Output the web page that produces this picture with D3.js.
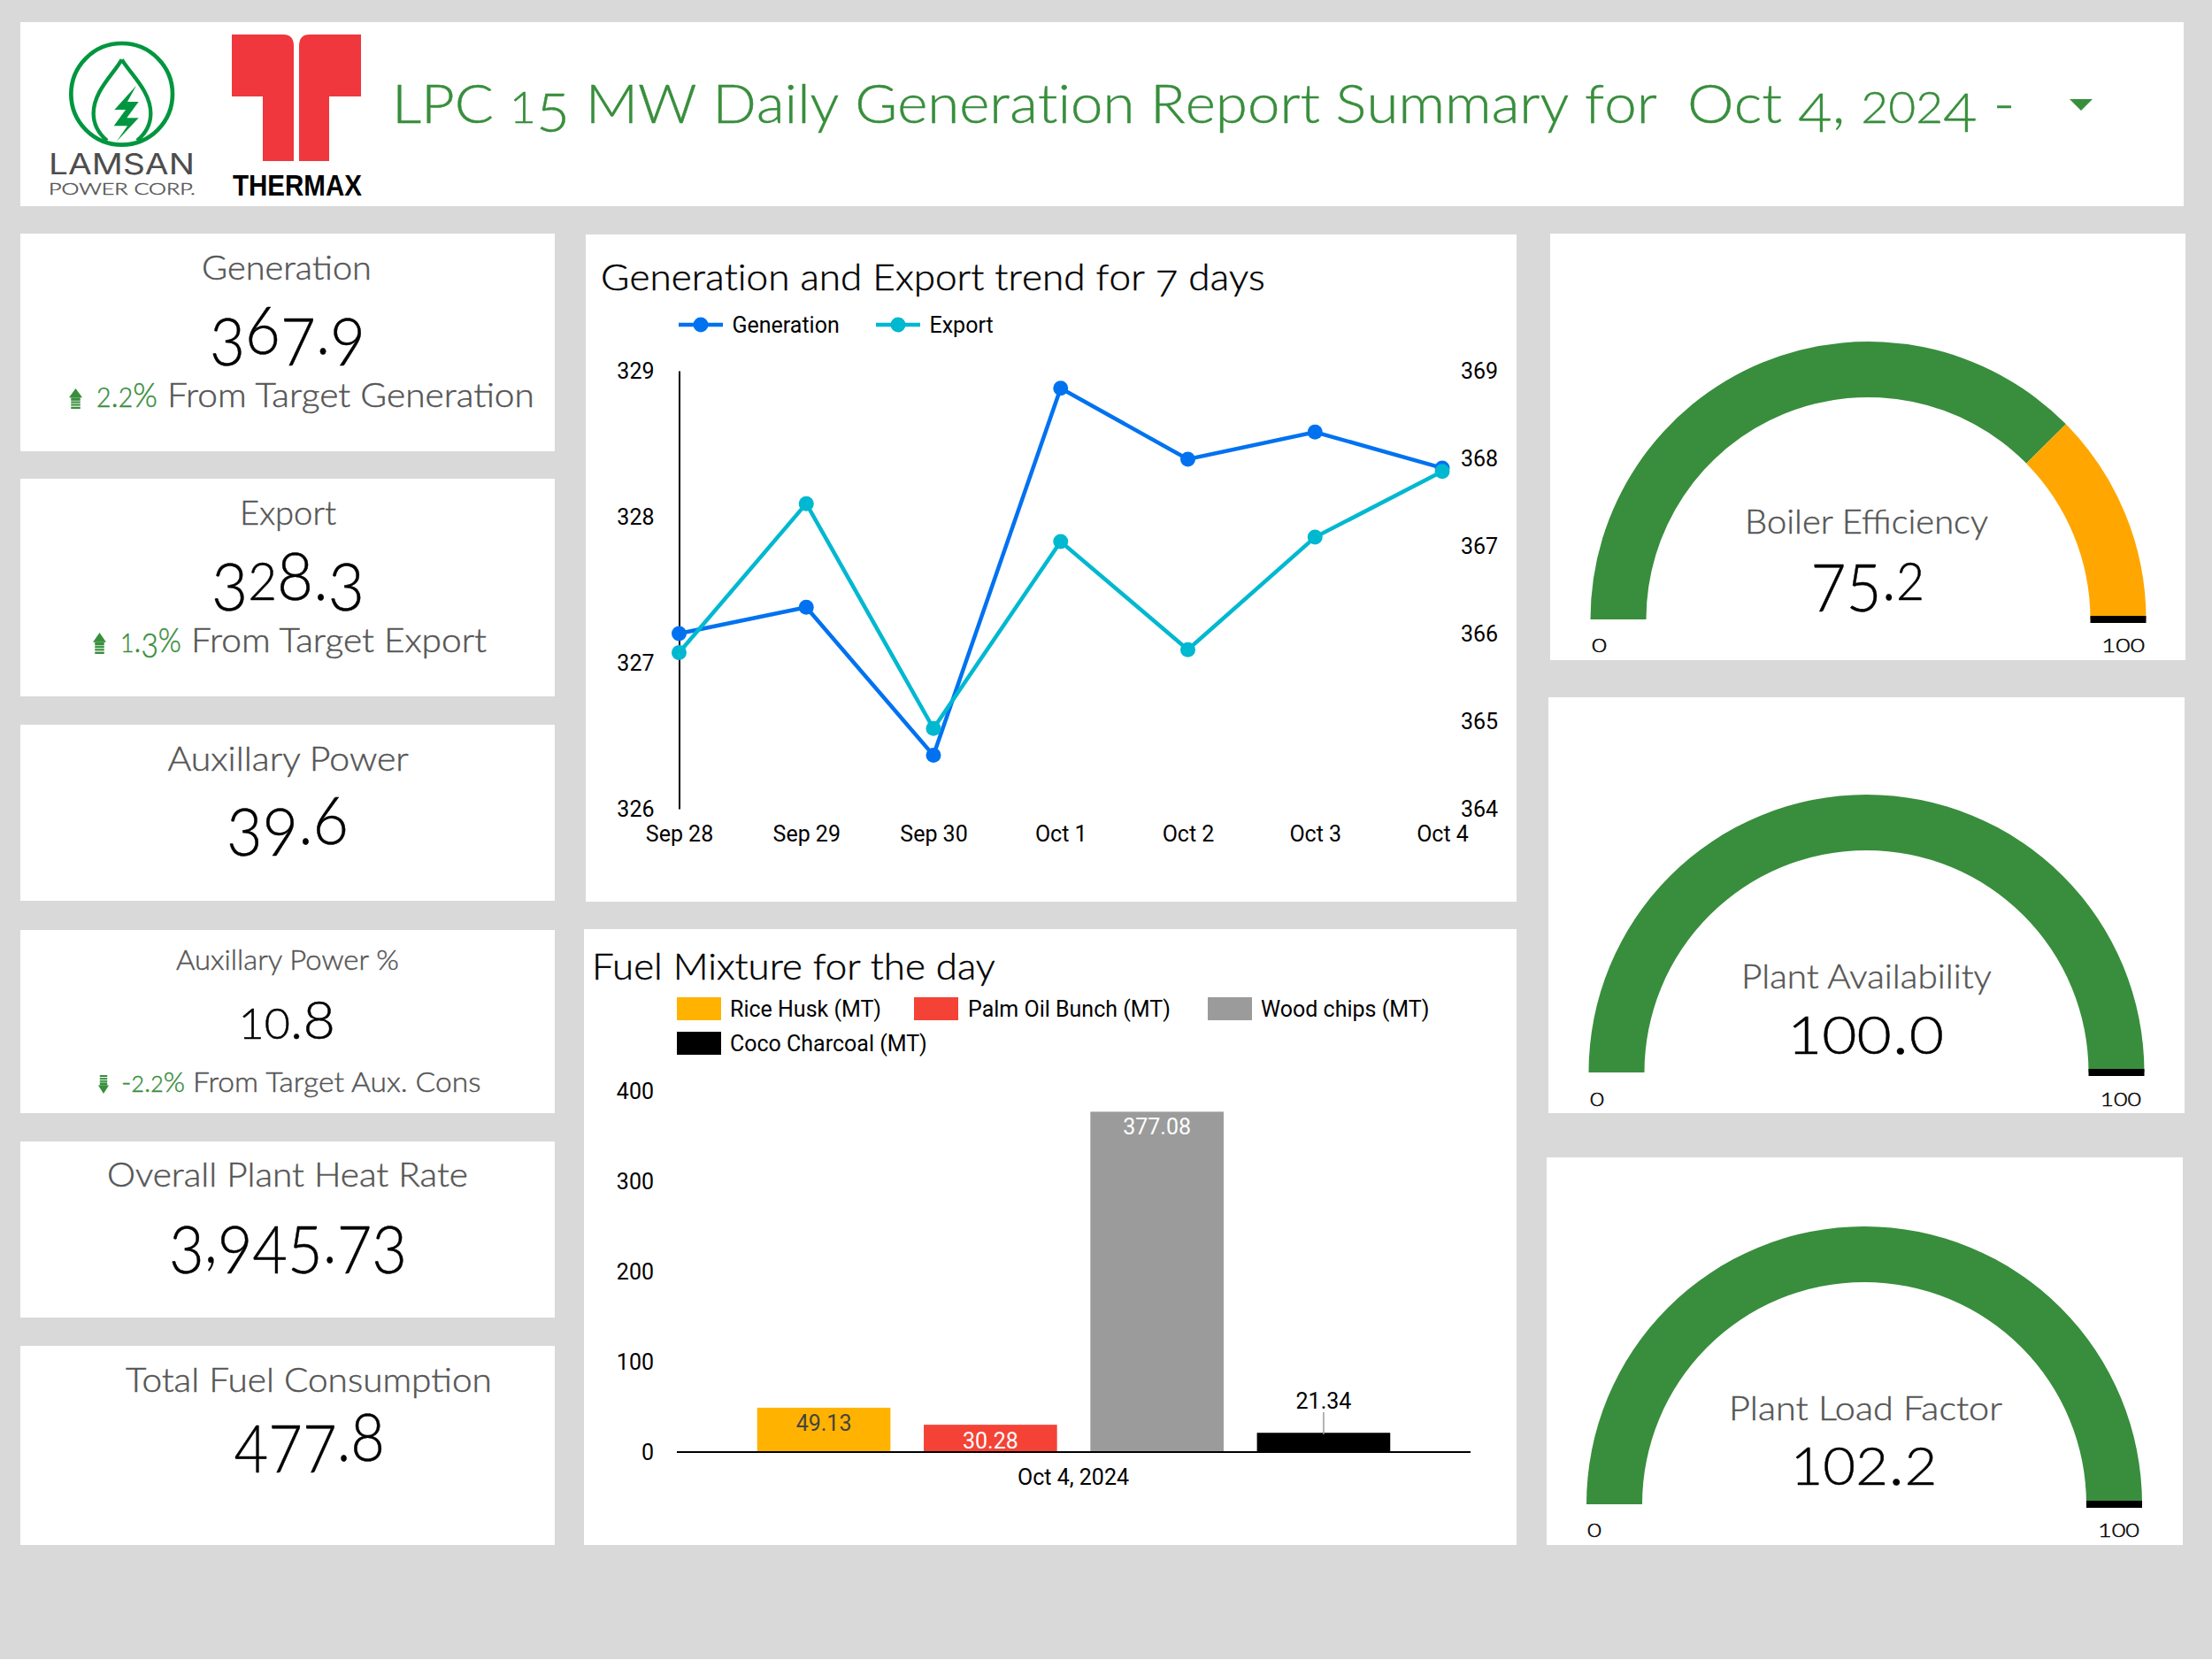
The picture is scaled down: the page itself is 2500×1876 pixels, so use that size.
<!DOCTYPE html>
<html><head><meta charset="utf-8">
<style>html,body{margin:0;padding:0;background:#fff}svg{display:block}text{white-space:pre}</style>
<script src="https://cdn.jsdelivr.net/npm/d3@7/dist/d3.min.js"></script>
</head><body><svg id="c" width="2500" height="1876"></svg>
<script>
// ---------- data ----------
const reportTitle = "LPC 15 MW Daily Generation Report Summary for";
const reportDate = "Oct 4, 2024 -";
const trendTitle = "Generation and Export trend for 7 days";
const fuelTitle = "Fuel Mixture for the day";
const days = ["Sep 28","Sep 29","Sep 30","Oct 1","Oct 2","Oct 3","Oct 4"];
const generation = [366.0,366.3,364.61,368.8,367.99,368.3,367.89];
const exportMW = [327.07,328.09,326.55,327.83,327.09,327.86,328.31];
const leftTicks = [326,327,328,329];
const rightTicks = [364,365,366,367,368,369];
const fuelNames = ["Rice Husk (MT)","Palm Oil Bunch (MT)","Wood chips (MT)","Coco Charcoal (MT)"];
const fuelValues = [49.13,30.28,377.08,21.34];
const fuelTicks = [0,100,200,300,400];
const fuelDate = "Oct 4, 2024";
const kpiTitles = ["Generation","Export","Auxillary Power","Auxillary Power %","Overall Plant Heat Rate","Total Fuel Consumption"];
const kpiValues = ["367.9","328.3","39.6","10.8","3,945.73","477.8"];
const kpiDeltas = ["2.2%","1.3%",null,"-2.2%",null,null];
const kpiNotes = ["From Target Generation","From Target Export",null,"From Target Aux. Cons",null,null];
const gaugeTitles = ["Boiler Efficiency","Plant Availability","Plant Load Factor"];
const gaugeValues = [75.2,100.0,102.2];
const gaugeRange = [0,100];

// ---------- style & layout ----------
const GREEN="#388E3C", AMBER="#FFA600", TXT="#555555", UI="Lato", NUM="Roboto";
const fuelColors=["#FFB300","#F44336","#9B9B9B","#000000"];
const fuelLabelColors=["#444444","#ffffff","#ffffff","#000000"];
const fuelLabelY=[1608,1628,1273,1583];
const svg=d3.select("#c");
const rect=(x0,y0,x1,y1,f,g=svg)=>g.append("rect").attr("x",x0).attr("y",y0).attr("width",x1-x0).attr("height",y1-y0).attr("fill",f);

// draws text whose span is [x1,x2]; digits optionally in old-style figures like the reference font
function label(str,o){
  const t=svg.append("text").attr("font-family",o.family||UI).attr("font-weight",o.weight||300)
    .attr("font-size",o.size).attr("fill",o.fill||"#000");
  if((o.weight||300)===300) t.attr("stroke",o.fill||"#000").attr("stroke-width",.45);
  let off=0;
  if(o.onum){
    for(const ch of str){
      let fs=o.size, d=0;
      if("012".includes(ch)){fs=o.size*.8;}
      else if("34579".includes(ch)){d=o.size*.17;}
      t.append("tspan").attr("font-size",fs).attr("dy",d-off).text(ch);
      off=d;
    }
  } else t.text(str);
  const len=t.node().getComputedTextLength();
  const sx=(o.x2!=null)?(o.x2-o.x1)/len:1;
  t.attr("transform",`translate(${o.x1},${o.y}) scale(${sx},1)`);
  return t;
}

rect(0,0,2500,1875,"#D9D9D9");
rect(0,1875,2500,1876,"#ffffff");

// panels
[[23,25,2468,233],[23,264,627,510],[23,541,627,787],[23,819,627,1018],[23,1051,627,1258],[23,1290,627,1489],[23,1521,627,1746],
 [662,265,1714,1019],[660,1050,1714,1746],[1752,264,2470,746],[1750,788,2469,1258],[1748,1308,2467,1746]]
 .forEach(p=>rect(p[0],p[1],p[2],p[3],"#fff"));

// ---------- header ----------
const lam=svg.append("g").attr("transform","translate(40,30) scale(0.3333)");
lam.append("circle").attr("cx",293).attr("cy",229).attr("r",172).attr("fill","none").attr("stroke","#00963F").attr("stroke-width",14);
lam.append("path").attr("d","M293,112C262,165 197,220 197,295C197,335 217,365 243,387M293,112C326,165 391,220 391,295C391,335 371,365 345,387")
  .attr("fill","none").attr("stroke","#00963F").attr("stroke-width",13).attr("stroke-linejoin","miter");
lam.append("path").attr("d","M342,200L268,282L306,282L266,337L312,337L275,390L350,310L310,310L350,255L312,255Z").attr("fill","#00963F");
label("LAMSAN",{x1:55,x2:220,y:197,size:32,weight:400,family:"Inter",fill:"#4D4D4D"});
label("POWER CORP.",{x1:55,x2:221,y:220,size:18,weight:300,fill:"#555"});
svg.append("path").attr("fill","#EF373D").attr("d","M262,39H320Q332,39 332,52V182H297V109H262ZM338,52Q338,39 350,39H408V109H372V182H338Z");
label("THERMAX",{x1:263,x2:409,y:221,size:33,weight:700,family:"Liberation Sans",fill:"#000"});
label(reportTitle,{x1:443,x2:1863,y:139,size:61,weight:300,fill:GREEN,onum:true});
label(reportDate,{x1:1907,x2:2277,y:139,size:61,weight:300,fill:GREEN,onum:true});
svg.append("path").attr("d","M2339,112H2365L2352,125Z").attr("fill",GREEN);

// ---------- KPI cards ----------
const titleX=[[228,420,316,38],[271,380,593,38],[189.5,462,871,38],[199,451,1096,32],[121,529,1341,38],[142,556,1573,38]];
const valueX=[[237,413,400,74],[239,412,677.5,74],[256,394,954,74],[269.5,379,1174,60],[191,460,1426.5,74],[264.5,435,1651,74]];
const deltaX=[[109,178,189,604,460,38,78,93,439,462,1],[136,205,216,550,737,38,105,120,715,739,1],null,[137,209,218,543.5,1234,32,111,123,1215,1236,-1]];
function arrow(x0,x1,y0,y1,dir){
  const g=svg.append("g").attr("fill",GREEN), h=y1-y0, mid=(x0+x1)/2;
  const s=x=>dir>0?y0+x*h:y1-x*h;
  g.append("path").attr("d",`M${mid},${s(0)}L${x1},${s(.45)}L${x0},${s(.45)}Z`);
  [[.45,.6],[.63,.72],[.76,.85],[.9,1]].forEach(b=>{
    const a=s(b[0]), c=s(b[1]);
    g.append("rect").attr("x",x0+(x1-x0)*.15).attr("width",(x1-x0)*.7).attr("y",Math.min(a,c)).attr("height",Math.abs(c-a));
  });
}
kpiTitles.forEach((t,i)=>{
  const a=titleX[i], v=valueX[i], d=deltaX[i];
  label(t,{x1:a[0],x2:a[1],y:a[2],size:a[3],weight:300,fill:TXT});
  label(kpiValues[i],{x1:v[0],x2:v[1],y:v[2],size:v[3],weight:300,onum:true});
  if(kpiDeltas[i]){
    label(kpiDeltas[i],{x1:d[0],x2:d[1],y:d[4],size:d[5],weight:300,fill:GREEN,onum:true});
    label(kpiNotes[i],{x1:d[2],x2:d[3],y:d[4],size:d[5],weight:300,fill:TXT});
    arrow(d[6],d[7],d[8],d[9],d[10]);
  }
});

// ---------- trend chart ----------
label(trendTitle,{x1:679,x2:1426,y:328,size:41,weight:300,onum:true});
const xT=d3.scalePoint().domain(days).range([767.5,1630]);
const yL=d3.scaleLinear().domain([326,329]).range([914,419]);
const yR=d3.scaleLinear().domain([364,369]).range([914,419]);
const styleAxis=(g,dom)=>{g.selectAll("text").attr("font-family",NUM).attr("font-size",25).attr("fill","#000");
  g.selectAll("path.domain").attr("stroke",dom?"#000":"none").attr("stroke-width",2);};
svg.append("g").attr("transform","translate(767.5,0)").call(d3.axisLeft(yL).tickValues(leftTicks).tickSize(0).tickPadding(28).tickFormat(d3.format("d"))).call(styleAxis,true);
svg.append("g").attr("transform","translate(1630,0)").call(d3.axisRight(yR).tickValues(rightTicks).tickSize(0).tickPadding(21).tickFormat(d3.format("d"))).call(styleAxis,false);
svg.append("g").attr("transform","translate(0,914)").call(d3.axisBottom(xT).tickSize(0).tickPadding(19)).call(styleAxis,false);
const LINE_BLUE="#0072F0", LINE_TEAL="#00B8D0";
[[generation,yR,LINE_BLUE],[exportMW,yL,LINE_TEAL]].forEach(s=>{
  const ln=d3.line().x((d,i)=>xT(days[i])).y(d=>s[1](d));
  svg.append("path").datum(s[0]).attr("d",ln).attr("fill","none").attr("stroke",s[2]).attr("stroke-width",4.5);
  svg.selectAll(null).data(s[0]).enter().append("circle").attr("cx",(d,i)=>xT(days[i])).attr("cy",d=>s[1](d)).attr("r",8.5).attr("fill",s[2]);
});
[["Generation",767,817,827.5,LINE_BLUE],["Export",990,1040,1050.5,LINE_TEAL]].forEach(l=>{
  svg.append("line").attr("x1",l[1]).attr("x2",l[2]).attr("y1",367).attr("y2",367).attr("stroke",l[4]).attr("stroke-width",4.5);
  svg.append("circle").attr("cx",(l[1]+l[2])/2).attr("cy",367).attr("r",8.5).attr("fill",l[4]);
  svg.append("text").attr("x",l[3]).attr("y",376).attr("font-family",NUM).attr("font-size",25).text(l[0]);
});

// ---------- fuel chart ----------
label(fuelTitle,{x1:669,x2:1125,y:1107,size:41,weight:300});
const xF=d3.scaleBand().domain(fuelNames).range([765,1662]).paddingInner(.2).paddingOuter(.482);
const yF=d3.scaleLinear().domain([0,400]).range([1641,1233]);
svg.append("g").attr("transform","translate(765,0)").call(d3.axisLeft(yF).tickValues(fuelTicks).tickSize(0).tickPadding(26)).call(styleAxis,false);
svg.selectAll(null).data(fuelNames).enter().append("rect").attr("x",d=>xF(d)).attr("width",xF.bandwidth())
  .attr("y",(d,i)=>yF(fuelValues[i])).attr("height",(d,i)=>yF(0)-yF(fuelValues[i])).attr("fill",(d,i)=>fuelColors[i]);
svg.append("line").attr("x1",765).attr("x2",1662).attr("y1",yF(0)).attr("y2",yF(0)).attr("stroke","#000").attr("stroke-width",2);
svg.selectAll(null).data(fuelNames).enter().append("text").attr("x",d=>xF(d)+xF.bandwidth()/2).attr("y",(d,i)=>fuelLabelY[i]+9)
  .attr("text-anchor","middle").attr("font-family",NUM).attr("font-size",25).attr("fill",(d,i)=>fuelLabelColors[i]).text((d,i)=>d3.format(".2f")(fuelValues[i]));
const cx4=xF(fuelNames[3])+xF.bandwidth()/2;
svg.append("line").attr("x1",cx4).attr("x2",cx4).attr("y1",1596).attr("y2",1621).attr("stroke","#9B9B9B").attr("stroke-width",1.5);
svg.append("text").attr("x",1213).attr("y",1678).attr("text-anchor","middle").attr("font-family",NUM).attr("font-size",25).text(fuelDate);
[[765,1127,825],[1033,1127,1094],[1365,1127,1425],[765,1166,825]].forEach((p,i)=>{
  rect(p[0],p[1],p[0]+50,p[1]+26,fuelColors[i]);
  svg.append("text").attr("x",p[2]).attr("y",p[1]+22).attr("font-family",NUM).attr("font-size",25).text(fuelNames[i]);
});

// ---------- gauges ----------
const gaugeCfg=[
 {cx:2111.5,by:700,tx:[1972,2247],ty:603,vx:[2046.5,2175],vy:678,z:[1799,1816],h:[2375,2424],ly:737,tk:38,vk:74},
 {cx:2109.5,by:1212,tx:[1968,2251],ty:1117,vx:[2020,2197],vy:1191,z:[1797,1813],h:[2373.5,2420],ly:1250,tk:38,vk:74},
 {cx:2107,by:1700,tx:[1954,2263],ty:1605,vx:[2023.5,2189.5],vy:1678,z:[1794,1810],h:[2371,2418],ly:1737,tk:38,vk:74}];
const ang=d3.scaleLinear().domain(gaugeRange).range([-Math.PI/2,Math.PI/2]).clamp(true);
const arcG=d3.arc().innerRadius(251).outerRadius(314);
gaugeValues.forEach((v,i)=>{
  const c=gaugeCfg[i], g=svg.append("g").attr("transform",`translate(${c.cx},${c.by})`);
  g.append("path").attr("d",arcG({startAngle:ang(0),endAngle:ang(v)})).attr("fill",GREEN);
  if(v<gaugeRange[1]) g.append("path").attr("d",arcG({startAngle:ang(v),endAngle:ang(gaugeRange[1])})).attr("fill",AMBER);
  g.append("rect").attr("x",251).attr("width",63).attr("y",-4).attr("height",8).attr("fill","#000");
  label(gaugeTitles[i],{x1:c.tx[0],x2:c.tx[1],y:c.ty,size:c.tk,weight:300,fill:TXT});
  label(d3.format(".1f")(v),{x1:c.vx[0],x2:c.vx[1],y:c.vy,size:c.vk,weight:300,onum:true});
  label(String(gaugeRange[0]),{x1:c.z[0],x2:c.z[1],y:c.ly,size:28,weight:300,onum:true});
  label(String(gaugeRange[1]),{x1:c.h[0],x2:c.h[1],y:c.ly,size:28,weight:300,onum:true});
});
</script></body></html>
